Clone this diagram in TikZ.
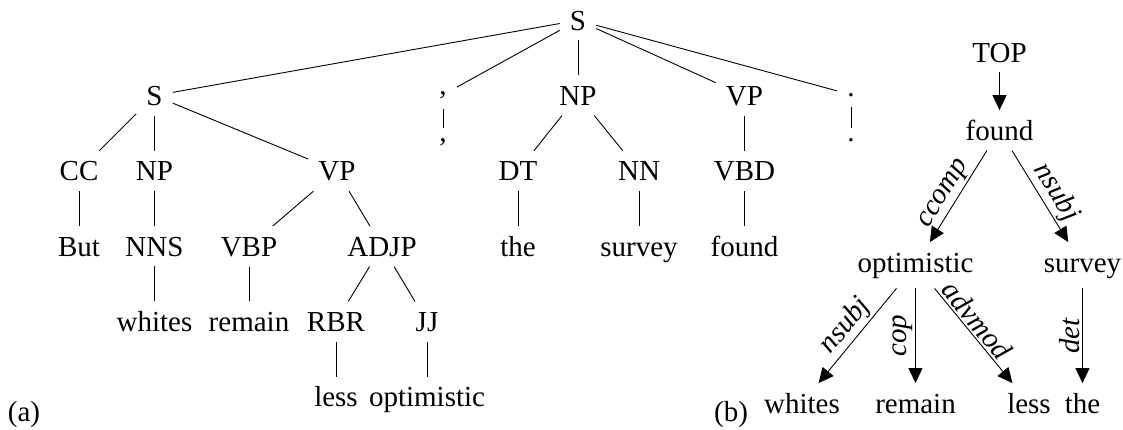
\documentclass[tikz,border=0pt]{standalone}
\usepackage{fontspec}
\setmainfont{Liberation Serif}
\usetikzlibrary{arrows.meta}
\begin{document}
\begin{tikzpicture}[x=1pt,y=-1pt,
  every node/.style={font=\fontsize{29}{34}\selectfont},
  tn/.style={inner sep=10pt, text height=19.7pt, anchor=base},
  pn/.style={inner sep=10pt, anchor=base},
  txt/.style={inner sep=0pt, anchor=base},
  edge/.style={line width=0.9pt},
  dep/.style={line width=0.9pt, -{Triangle[length=15pt,width=14pt]}},
  lbl/.style={font=\fontsize{29}{34}\selectfont\itshape, sloped, above, inner sep=2pt},
  vlbl/.style={font=\fontsize{29}{34}\selectfont\itshape, rotate=90, anchor=south, inner sep=2pt}
]
\useasboundingbox (0,0) rectangle (1123,429);

% ---- (a) constituency tree ----
\node[tn] (S0) at (578,30) {S};
\node[tn] (S1) at (154.5,105.3) {S};
\node[pn] (c1) at (443,94) {,};
\node[tn] (NP1) at (578,105.3) {NP};
\node[tn] (VP1) at (744.5,105.3) {VP};
\node[pn] (p1) at (851,96) {.};
\node[tn] (CC) at (79,180.6) {CC};
\node[tn] (NP2) at (154.5,180.6) {NP};
\node[tn] (VP2) at (337,180.6) {VP};
\node[pn] (c2) at (443,141) {,};
\node[tn] (DT) at (518,180.6) {DT};
\node[tn] (NN) at (639,180.6) {NN};
\node[tn] (VBD) at (744.5,180.6) {VBD};
\node[pn] (p2) at (851,141) {.};
\node[tn] (But) at (79,256) {But};
\node[tn] (NNS) at (154.5,256) {NNS};
\node[tn] (VBP) at (249,256) {VBP};
\node[tn] (ADJP) at (382,256) {ADJP};
\node[tn] (the) at (518,256) {the};
\node[tn] (survey) at (639,256) {survey};
\node[tn] (found) at (744.5,256) {found};
\node[tn] (whites) at (154.5,331.3) {whites};
\node[tn] (remain) at (249,331.3) {remain};
\node[tn] (RBR) at (336,331.3) {RBR};
\node[tn] (JJ) at (427,331.3) {JJ};
\node[tn] (less) at (336,406.6) {less};
\node[tn] (optimistic) at (427,406.6) {optimistic};
\node[txt] (la) at (24,421) {(a)};

\draw[edge] (S0) -- (S1);
\draw[edge] (S0) -- (c1);
\draw[edge] (S0) -- (NP1);
\draw[edge] (S0) -- (VP1);
\draw[edge] (S0) -- (p1);
\draw[edge] (S1) -- (CC);
\draw[edge] (S1) -- (NP2);
\draw[edge] (S1) -- (VP2);
\draw[edge] (c1) -- (c2);
\draw[edge] (NP1) -- (DT);
\draw[edge] (NP1) -- (NN);
\draw[edge] (VP1) -- (VBD);
\draw[edge] (p1) -- (p2);
\draw[edge] (CC) -- (But);
\draw[edge] (NP2) -- (NNS);
\draw[edge] (VP2) -- (VBP);
\draw[edge] (VP2) -- (ADJP);
\draw[edge] (DT) -- (the);
\draw[edge] (NN) -- (survey);
\draw[edge] (VBD) -- (found);
\draw[edge] (NNS) -- (whites);
\draw[edge] (VBP) -- (remain);
\draw[edge] (ADJP) -- (RBR);
\draw[edge] (ADJP) -- (JJ);
\draw[edge] (RBR) -- (less);
\draw[edge] (JJ) -- (optimistic);

% ---- (b) dependency tree ----
\node[tn] (dTOP) at (999.5,62) {TOP};
\node[tn] (dfound) at (999.5,140) {found};
\node[tn] (dopt) at (915.5,272) {optimistic};
\node[tn] (dsurvey) at (1082.5,272) {survey};
\node[tn] (dwhites) at (802,413) {whites};
\node[tn] (dremain) at (915.5,413) {remain};
\node[tn] (dless) at (1029,413) {less};
\node[tn] (dthe) at (1082.5,413) {the};
\node[txt] (lb) at (731,421) {(b)};

\draw[dep] (dTOP) -- (dfound);
\draw[dep] (dfound) -- node[lbl, pos=0.55] {ccomp} (dopt);
\draw[dep] (dfound) -- node[lbl, pos=0.55] {nsubj} (dsurvey);
\draw[dep] (dopt) -- node[lbl, pos=0.5] {nsubj} (dwhites);
\draw[dep] (dopt) -- node[vlbl, pos=0.5] {cop} (dremain);
\draw[dep] (dopt) -- node[lbl, pos=0.42] {advmod} (dless);
\draw[dep] (dsurvey) -- node[vlbl, pos=0.5] {det} (dthe);
\end{tikzpicture}
\end{document}
